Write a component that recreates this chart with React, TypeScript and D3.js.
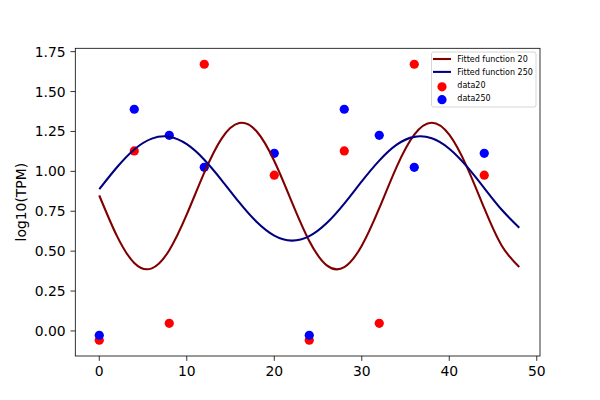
import React from "react";
import * as d3 from "d3";

// sample times of the measurements
const times = [0, 4, 8, 12, 20, 24, 28, 32, 36, 44];
const data20 = [-0.058, 1.128, 0.048, 1.671, 0.976, -0.058, 1.128, 0.048, 1.671, 0.976];
const data250 = [-0.027, 1.389, 1.226, 1.025, 1.113, -0.027, 1.389, 1.226, 1.025, 1.113];

// fitted curves, every 2 units
const fitX = [0, 2, 4, 6, 8, 10, 12, 14, 16, 18, 20, 22, 24, 26, 28, 30, 32, 34, 36, 38, 40, 42, 44, 46, 48];
const fit20 = [0.849, 0.597, 0.426, 0.392, 0.506, 0.73, 0.992, 1.207, 1.303, 1.25, 1.065, 0.809, 0.564, 0.411, 0.4, 0.534, 0.769, 1.03, 1.23, 1.305, 1.23, 1.03, 0.769, 0.534, 0.4];
const fit250 = [0.888, 1.024, 1.137, 1.205, 1.217, 1.17, 1.073, 0.944, 0.805, 0.682, 0.597, 0.566, 0.594, 0.676, 0.798, 0.937, 1.067, 1.167, 1.216, 1.207, 1.142, 1.031, 0.895, 0.759, 0.647];

const xTicks = [0, 10, 20, 30, 40, 50];
const yTicks = [0, 0.25, 0.5, 0.75, 1.0, 1.25, 1.5, 1.75];

const legendItems = [
  { label: "Fitted function 20", color: "#800000", kind: "line" },
  { label: "Fitted function 250", color: "#000080", kind: "line" },
  { label: "data20", color: "red", kind: "dot" },
  { label: "data250", color: "blue", kind: "dot" },
];

const font = "DejaVu Sans";

const App: React.FC = () => {
  const left = 75.3;
  const right = 540;
  const top = 48.3;
  const bottom = 356;

  const x = d3.scaleLinear().domain([-2.74, 50.37]).range([left, right]);
  const y = d3.scaleLinear().domain([-0.157, 1.771]).range([bottom, top]);

  const line = d3
    .line<number>()
    .x((_d, i) => x(fitX[i]))
    .y((d) => y(d))
    .curve(d3.curveNatural);

  const tickLen = 4.86;
  const lw = 2.08;

  return (
    <div style={{ position: "absolute", left: 0, top: 0 }}>
      <svg width={600} height={400} style={{ display: "block", fontFamily: font }}>
        <rect width={600} height={400} fill="white" />

        {/* scatter points (drawn below the lines, like matplotlib) */}
        {times.map((t, i) => (
          <circle key={"r" + i} cx={x(t)} cy={y(data20[i])} r={4.6} fill="red" />
        ))}
        {times.map((t, i) => (
          <circle key={"b" + i} cx={x(t)} cy={y(data250[i])} r={4.6} fill="blue" />
        ))}

        <path d={line(fit20) ?? ""} fill="none" stroke="#800000" strokeWidth={lw} />
        <path d={line(fit250) ?? ""} fill="none" stroke="#000080" strokeWidth={lw} />

        {/* frame */}
        <rect
          x={left}
          y={top}
          width={right - left}
          height={bottom - top}
          fill="none"
          stroke="black"
          strokeWidth={0.8}
        />

        {/* x axis */}
        {xTicks.map((t) => (
          <g key={"xt" + t}>
            <line x1={x(t)} x2={x(t)} y1={bottom} y2={bottom + tickLen} stroke="black" strokeWidth={0.8} />
            <text x={x(t)} y={376} textAnchor="middle" fontSize={13.9} fill="black">
              {t}
            </text>
          </g>
        ))}

        {/* y axis */}
        {yTicks.map((t) => (
          <g key={"yt" + t}>
            <line x1={left - tickLen} x2={left} y1={y(t)} y2={y(t)} stroke="black" strokeWidth={0.8} />
            <text x={65.6} y={y(t) + 5} textAnchor="end" fontSize={13.9} fill="black">
              {t.toFixed(2)}
            </text>
          </g>
        ))}

        <text
          transform={`translate(26,${(top + bottom) / 2}) rotate(-90)`}
          textAnchor="middle"
          fontSize={13.9}
          fill="black"
        >
          log10(TPM)
        </text>

        {/* legend */}
        <rect
          x={431.5}
          y={52}
          width={104.5}
          height={55}
          rx={2}
          fill="white"
          fillOpacity={0.8}
          stroke="#cccccc"
          strokeWidth={0.8}
        />
        {legendItems.map((d, i) => {
          const ry = 59 + i * 12.9;
          return (
            <g key={d.label}>
              {d.kind === "line" ? (
                <line x1={433} x2={451} y1={ry} y2={ry} stroke={d.color} strokeWidth={lw} />
              ) : (
                <circle cx={442} cy={ry + 2} r={4.6} fill={d.color} />
              )}
              <text x={457.3} y={ry + 2.9} fontSize={8} fill="black">
                {d.label}
              </text>
            </g>
          );
        })}
      </svg>
    </div>
  );
};

export default App;
